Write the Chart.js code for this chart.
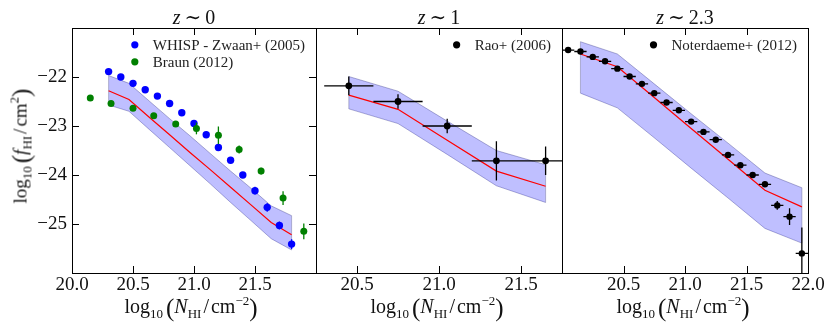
<!DOCTYPE html>
<html><head><meta charset="utf-8">
<script src="https://cdn.jsdelivr.net/npm/chart.js@4.4.1/dist/chart.umd.min.js"></script>
<style>
html,body{margin:0;padding:0;background:#fff;}
#wrap{position:relative;width:830px;height:329px;overflow:hidden;font-family:"Liberation Serif","DejaVu Serif",serif;color:#111;}
canvas{position:absolute;left:0;top:0;}
.t{position:absolute;white-space:nowrap;font-size:20px;line-height:20px;transform:translateX(-50%);}
.xl{position:absolute;white-space:nowrap;font-size:20px;line-height:20px;transform:translateX(-50%);}
.yl{position:absolute;white-space:nowrap;font-size:19px;line-height:19px;transform:translate(-50%,-50%) rotate(-90deg);}
.sb{font-size:13px;position:relative;top:5px;}
.sp{font-size:13px;position:relative;top:-8px;}
.pr{font-size:25px;position:relative;top:3px;}
.pl{margin-left:3px;}
.sim{font-family:"DejaVu Serif",serif;margin:0 4px;}
.sl{margin:0 2px;}
</style></head>
<body>
<div id="wrap">
<canvas id="c0" width="830" height="329"></canvas>
<canvas id="c1" width="830" height="329"></canvas>
<canvas id="c2" width="830" height="329"></canvas>
<div class="t" style="left:194px;top:7px;"><i>z</i><span class="sim">∼</span>0</div>
<div class="t" style="left:439px;top:7px;"><i>z</i><span class="sim">∼</span>1</div>
<div class="t" style="left:685px;top:7px;"><i>z</i><span class="sim">∼</span>2.3</div>
<div class="xl" style="left:191px;top:295px;">log<span class="sb">10</span><span class="pr pl">(</span><i>N</i><span class="sb">HI</span><span class="sl">/</span>cm<span class="sp">−2</span><span class="pr">)</span></div>
<div class="xl" style="left:437px;top:295px;">log<span class="sb">10</span><span class="pr pl">(</span><i>N</i><span class="sb">HI</span><span class="sl">/</span>cm<span class="sp">−2</span><span class="pr">)</span></div>
<div class="xl" style="left:683px;top:295px;">log<span class="sb">10</span><span class="pr pl">(</span><i>N</i><span class="sb">HI</span><span class="sl">/</span>cm<span class="sp">−2</span><span class="pr">)</span></div>
<div class="yl" style="left:20px;top:146px;">log<span class="sb">10</span><span class="pr pl">(</span><i>f</i><span class="sb">HI</span><span class="sl">/</span>cm<span class="sp">2</span><span class="pr">)</span></div>
</div>
<script>
// ---------- data ----------
// Panel z ~ 0
const whispX = [20.3,20.4,20.5,20.6,20.7,20.8,20.9,21.0,21.1,21.2,21.3,21.4,21.5,21.6,21.7,21.8];
const whispY = [-21.89,-22.00,-22.13,-22.26,-22.39,-22.54,-22.73,-22.95,-23.18,-23.44,-23.70,-24.00,-24.32,-24.66,-25.03,-25.41];
const whispErr = [0.02,0.02,0.02,0.02,0.02,0.02,0.03,0.03,0.03,0.04,0.04,0.05,0.08,0.09,0.08,0.10];
const braunX = [20.15,20.32,20.50,20.67,20.85,21.02,21.20,21.37,21.55,21.73,21.90];
const braunY = [-22.43,-22.54,-22.64,-22.79,-22.96,-23.05,-23.19,-23.48,-23.92,-24.47,-25.15];
const braunErr = [0.03,0.03,0.04,0.04,0.05,0.12,0.18,0.08,0.07,0.14,0.16];
const model0X = [20.3,20.467,20.633,20.8,20.967,21.133,21.3,21.467,21.633,21.8];
const model0Mid = [-22.28,-22.46,-22.82,-23.18,-23.54,-23.89,-24.25,-24.61,-24.97,-25.22];
const model0Hi = [-21.97,-22.13,-22.49,-22.85,-23.20,-23.56,-23.92,-24.27,-24.63,-24.83];
const model0Lo = [-22.57,-22.70,-23.07,-23.44,-23.81,-24.18,-24.56,-24.93,-25.30,-25.53];
// Panel z ~ 1
const raoX = [20.45,20.75,21.05,21.35,21.65];
const raoY = [-22.18,-22.50,-23.00,-23.71,-23.71];
const raoXErr = [0.15,0.15,0.15,0.15,0.15];
const raoYErr = [0.19,0.15,0.15,0.40,0.29];
const model1X = [20.45,20.75,21.05,21.35,21.65];
const model1Mid = [-22.37,-22.66,-23.29,-23.92,-24.23];
const model1Hi = [-21.99,-22.29,-22.90,-23.50,-23.79];
const model1Lo = [-22.65,-22.95,-23.58,-24.22,-24.56];
// Panel z ~ 2.3
const notX = [20.05,20.15,20.25,20.35,20.45,20.55,20.65,20.75,20.85,20.95,21.05,21.15,21.25,21.35,21.45,21.55,21.65,21.75,21.85,21.95];
const notY = [-21.45,-21.48,-21.59,-21.68,-21.83,-21.99,-22.14,-22.33,-22.52,-22.68,-22.91,-23.12,-23.28,-23.59,-23.80,-24.00,-24.19,-24.62,-24.85,-25.60];
const notXErr = [0.05,0.05,0.05,0.05,0.05,0.05,0.05,0.05,0.05,0.05,0.05,0.05,0.05,0.05,0.05,0.05,0.05,0.05,0.05,0.05];
const notYErrHi = [0.02,0.02,0.02,0.02,0.02,0.02,0.03,0.03,0.03,0.03,0.03,0.03,0.03,0.04,0.04,0.05,0.05,0.09,0.17,0.53];
const notYErrLo = [0.02,0.02,0.02,0.02,0.02,0.02,0.03,0.03,0.03,0.03,0.03,0.03,0.03,0.04,0.04,0.05,0.05,0.09,0.17,1.00];
const model2X = [20.15,20.45,20.75,21.05,21.35,21.65,21.95];
const model2Mid = [-21.53,-21.79,-22.42,-23.05,-23.68,-24.31,-24.65];
const model2Hi = [-21.28,-21.53,-22.14,-22.75,-23.35,-23.96,-24.26];
const model2Lo = [-22.33,-22.63,-23.24,-23.86,-24.47,-25.09,-25.39];
// ticks
const xTicks0 = [20.0,20.5,21.0,21.5];
const xTicks1 = [20.5,21.0,21.5];
const xTicks2 = [20.5,21.0,21.5,22.0];
const yTicks = [-22,-23,-24,-25];

// ---------- drawing ----------
const W = 830, H = 329, TOP = 28, BOTTOM = 273, XAXIS_H = 30, YAXIS_W = 72;
const FONT = '"Liberation Serif", "DejaVu Serif", serif';
const BAND_FILL = 'rgba(0,0,255,0.25)';
const BAND_EDGE = 'rgba(40,40,120,0.35)';
const pts = (xs, ys) => xs.map((v, i) => ({x: v, y: ys[i]}));

function modelSets(xs, mid, hi, lo) {
  return [
    {type:'line', order:4, data:pts(xs, lo), borderColor:BAND_EDGE, borderWidth:1, pointRadius:0, fill:false, bandLo:true},
    {type:'line', order:3, data:pts(xs, hi), borderColor:BAND_EDGE, borderWidth:1, pointRadius:0, fill:'-1', backgroundColor:BAND_FILL, bandHi:true},
    {type:'line', order:2, data:pts(xs, mid), borderColor:'#ff0000', borderWidth:1.2, pointRadius:0, fill:false}
  ];
}

const errorBars = {
  id:'errorBars',
  beforeDatasetDraw(chart, args) {
    const ds = chart.data.datasets[args.index];
    const ctx = chart.ctx, a = chart.chartArea, x = chart.scales.x, y = chart.scales.y;
    if (ds.bandHi) {
      // closing vertical edges of the model band (fill_between outline)
      const lo = chart.data.datasets[args.index - 1].data, hi = ds.data;
      ctx.save();
      ctx.strokeStyle = BAND_EDGE; ctx.lineWidth = 1;
      ctx.beginPath();
      [0, hi.length - 1].forEach(k => {
        const px = x.getPixelForValue(hi[k].x);
        ctx.moveTo(px, y.getPixelForValue(hi[k].y)); ctx.lineTo(px, y.getPixelForValue(lo[k].y));
      });
      ctx.stroke();
      ctx.restore();
      return;
    }
    if (!ds.errY && !ds.errX) return;
    ctx.save();
    ctx.beginPath(); ctx.rect(a.left, a.top, a.right - a.left, a.bottom - a.top); ctx.clip();
    ctx.strokeStyle = ds.errColor; ctx.lineWidth = 1.3;
    ds.data.forEach((p, i) => {
      const px = x.getPixelForValue(p.x), py = y.getPixelForValue(p.y);
      ctx.beginPath();
      if (ds.errY) {
        const hi = ds.errY[i], lo = ds.errYLo ? ds.errYLo[i] : hi;
        ctx.moveTo(px, y.getPixelForValue(p.y + hi)); ctx.lineTo(px, y.getPixelForValue(p.y - lo));
      }
      if (ds.errX) {
        const e = ds.errX[i];
        ctx.moveTo(x.getPixelForValue(p.x - e), py); ctx.lineTo(x.getPixelForValue(p.x + e), py);
      }
      ctx.stroke();
    });
    ctx.restore();
  }
};

function decoPlugin(cfg) {
  return {
    id:'deco',
    afterDraw(chart) {
      const ctx = chart.ctx, a = chart.chartArea, x = chart.scales.x, y = chart.scales.y;
      const TL = 7;
      ctx.save();
      ctx.strokeStyle = '#000'; ctx.lineWidth = 1;
      ctx.beginPath();
      x.ticks.forEach(t => {
        const px = Math.round(x.getPixelForValue(t.value)) + 0.5;
        ctx.moveTo(px, a.bottom); ctx.lineTo(px, a.bottom - TL);
        ctx.moveTo(px, a.top); ctx.lineTo(px, a.top + TL);
      });
      if (cfg.yMarks) {
        y.ticks.forEach(t => {
          const py = Math.round(y.getPixelForValue(t.value)) + 0.5;
          ctx.moveTo(a.left, py); ctx.lineTo(a.left + TL, py);
          ctx.moveTo(a.right, py); ctx.lineTo(a.right - TL, py);
        });
      }
      ctx.stroke();
      ctx.strokeRect(Math.round(a.left) + 0.5, Math.round(a.top) + 0.5, Math.round(a.right - a.left), Math.round(a.bottom - a.top));
      // legend
      ctx.font = '15px ' + FONT;
      ctx.textBaseline = 'middle'; ctx.textAlign = 'left';
      const items = cfg.legend;
      const maxW = Math.max(...items.map(it => ctx.measureText(it.label).width));
      const tx = a.right - 11 - maxW;
      items.forEach((it, i) => {
        const ly = a.top + 16.8 + i * 17;
        ctx.fillStyle = it.color;
        ctx.beginPath(); ctx.arc(tx - 18, ly, 3.6, 0, Math.PI * 2); ctx.fill();
        ctx.fillStyle = '#222';
        ctx.fillText(it.label, tx, ly + 1);
      });
      ctx.restore();
    }
  };
}

function makeChart(id, p) {
  const yW = p.showY ? YAXIS_W : 0;
  return new Chart(document.getElementById(id), {
    type:'scatter',
    data:{datasets:p.datasets},
    options:{
      responsive:false, animation:false, devicePixelRatio:1,
      layout:{padding:{left:p.left - yW, right:W - p.right, top:TOP, bottom:H - BOTTOM - XAXIS_H}},
      plugins:{legend:{display:false}, tooltip:{enabled:false}, title:{display:false}},
      scales:{
        x:{type:'linear', min:p.xMin, max:p.xMax,
           afterBuildTicks:s => { s.ticks = p.xTicks.map(v => ({value:v})); },
           afterFit:s => { s.height = XAXIS_H; s.paddingLeft = 0; s.paddingRight = 0; },
           grid:{display:false, drawTicks:false}, border:{display:false},
           ticks:{font:{family:FONT, size:19}, color:'#111', padding:1, autoSkip:false, maxRotation:0,
                  callback:v => Number(v).toFixed(1)}},
        y:{type:'linear', min:-26, max:-21,
           afterBuildTicks:s => { s.ticks = yTicks.map(v => ({value:v})); },
           afterFit:s => { s.width = yW; s.paddingTop = 0; s.paddingBottom = 0; },
           grid:{display:false, drawTicks:false}, border:{display:false},
           ticks:{display:p.showY, font:{family:FONT, size:19}, color:'#111', padding:5, autoSkip:false,
                  callback:v => '\u2212' + Math.abs(v)}}
      }
    },
    plugins:[errorBars, decoPlugin(p.deco)]
  });
}

makeChart('c0', {
  left:72, right:316, xMin:20.0, xMax:22.0, xTicks:xTicks0, showY:true,
  deco:{yMarks:true, legend:[{label:'WHISP - Zwaan+ (2005)', color:'#0000ff'}, {label:'Braun (2012)', color:'#008000'}]},
  datasets:[
    ...modelSets(model0X, model0Mid, model0Hi, model0Lo),
    {label:'WHISP - Zwaan+ (2005)', order:1, data:pts(whispX, whispY), errY:whispErr, errColor:'#0000ff',
     pointRadius:3.7, pointBackgroundColor:'#0000ff', pointBorderWidth:0, showLine:false},
    {label:'Braun (2012)', order:0, data:pts(braunX, braunY), errY:braunErr, errColor:'#008000',
     pointRadius:3.5, pointBackgroundColor:'#008000', pointBorderWidth:0, showLine:false}
  ]
});
makeChart('c1', {
  left:316, right:562, xMin:20.25, xMax:21.75, xTicks:xTicks1, showY:false,
  deco:{yMarks:false, legend:[{label:'Rao+ (2006)', color:'#000'}]},
  datasets:[
    ...modelSets(model1X, model1Mid, model1Hi, model1Lo),
    {label:'Rao+ (2006)', order:0, data:pts(raoX, raoY), errY:raoYErr, errX:raoXErr, errColor:'#000',
     pointRadius:3.4, pointBackgroundColor:'#000', pointBorderWidth:0, showLine:false}
  ]
});
makeChart('c2', {
  left:562, right:808, xMin:20.0, xMax:22.0, xTicks:xTicks2, showY:false,
  deco:{yMarks:false, legend:[{label:'Noterdaeme+ (2012)', color:'#000'}]},
  datasets:[
    ...modelSets(model2X, model2Mid, model2Hi, model2Lo),
    {label:'Noterdaeme+ (2012)', order:0, data:pts(notX, notY), errY:notYErrHi, errYLo:notYErrLo, errX:notXErr, errColor:'#000',
     pointRadius:3.2, pointBackgroundColor:'#000', pointBorderWidth:0, showLine:false}
  ]
});
</script>
</body></html>
